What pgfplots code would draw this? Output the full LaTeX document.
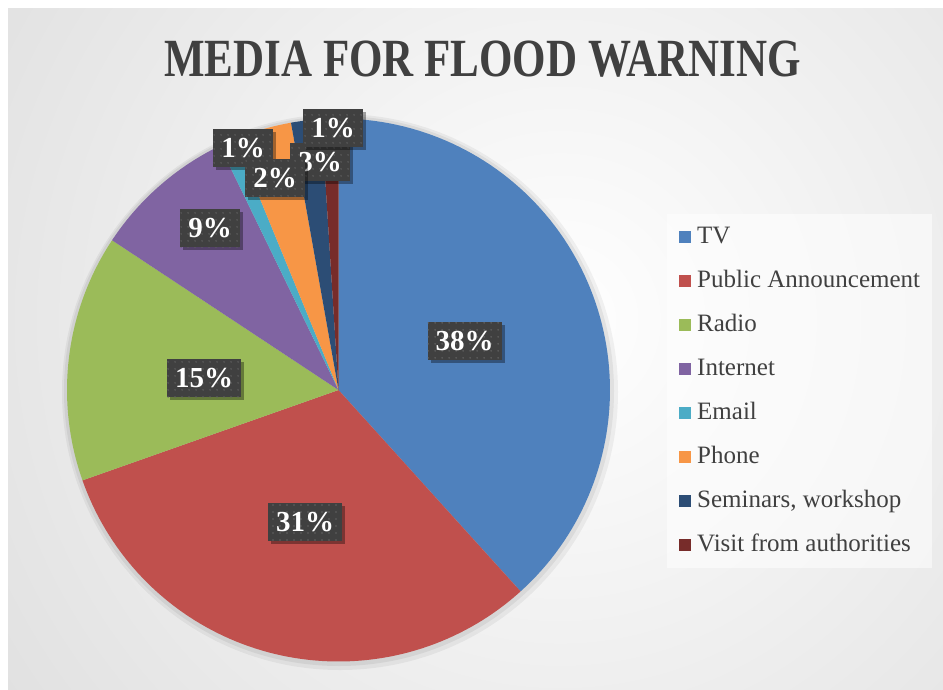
\documentclass[border=0pt]{standalone}
\usepackage{pgfplots}
\pgfplotsset{compat=1.18}
\usepackage{fontspec}
\setmainfont{Liberation Serif}
\usetikzlibrary{shadows,patterns.meta}
\definecolor{cTV}{HTML}{4F81BD}
\definecolor{cPA}{HTML}{C0504D}
\definecolor{cRadio}{HTML}{9BBB59}
\definecolor{cNet}{HTML}{8064A2}
\definecolor{cMail}{HTML}{4BACC6}
\definecolor{cPhone}{HTML}{F79646}
\definecolor{cSem}{HTML}{2C4D75}
\definecolor{cVisit}{HTML}{772C2A}
\definecolor{txt}{HTML}{404040}
\begin{document}
\begin{tikzpicture}[
  lab/.style={fill=txt, text=white, font=\fontsize{29}{29}\selectfont\bfseries,
    minimum height=38pt, inner xsep=8pt, inner ysep=0pt,
    drop shadow={shadow xshift=3pt, shadow yshift=-3pt, opacity=0.35, fill=black},
    postaction={pattern={Dots[distance=6.5pt, radius=0.9pt]}, pattern color=black!62}}]
\useasboundingbox (0,0) rectangle (943pt,-689pt);
\fill[white] (0,0) rectangle (943pt,-689pt);
\begin{scope}
\clip (8pt,-8pt) rectangle (943pt,-689pt);
\shade[inner color=white, outer color=black!22] (560pt,-320pt) circle (1250pt);
\end{scope}
% soft shadow behind pie
\fill[black, opacity=0.05] (340pt,-392pt) circle (278pt);
\fill[black, opacity=0.06] (339pt,-391pt) circle (275pt);
% title
\node[text=txt, font=\fontsize{43}{43}\selectfont\bfseries] at (482.5pt,-59pt)
  {\scalebox{1}[1.25]{MEDIA FOR FLOOD WARNING}};
\begin{axis}[
  at={(338.5pt,-390pt)}, anchor=center,
  width=543pt, height=543pt, scale only axis,
  xmin=-1, xmax=1, ymin=-1, ymax=1,
  hide axis, clip=false,
  legend cell align=left,
  legend image code/.code={\fill[#1, fill opacity=1, opacity=1] (0pt,-6pt) rectangle (12pt,6pt); \path (18pt,0pt);},
  legend style={at={(1.105,0.824)}, anchor=north west, draw=none,
    fill=white, fill opacity=0.55, text opacity=1,
    font=\fontsize{25}{25}\selectfont, text=txt,
    inner xsep=12pt, inner ysep=12pt, row sep=22pt,
    nodes={inner xsep=0pt, inner ysep=0pt, text height=17pt, text depth=5pt}},
]
% slice boundaries in percent of the whole (clockwise from 12 o'clock)
\addplot[fill=cTV, draw=none, domain=0:38.3, samples=90] ({sin(3.6*x)},{cos(3.6*x)}) -- (axis cs:0,0) -- cycle;
\addlegendentry{TV}
\addplot[fill=cPA, draw=none, domain=38.3:69.6, samples=80] ({sin(3.6*x)},{cos(3.6*x)}) -- (axis cs:0,0) -- cycle;
\addlegendentry{Public Announcement}
\addplot[fill=cRadio, draw=none, domain=69.6:84.3, samples=50] ({sin(3.6*x)},{cos(3.6*x)}) -- (axis cs:0,0) -- cycle;
\addlegendentry{Radio}
\addplot[fill=cNet, draw=none, domain=84.3:92.8, samples=30] ({sin(3.6*x)},{cos(3.6*x)}) -- (axis cs:0,0) -- cycle;
\addlegendentry{Internet}
\addplot[fill=cMail, draw=none, domain=92.8:93.8, samples=6] ({sin(3.6*x)},{cos(3.6*x)}) -- (axis cs:0,0) -- cycle;
\addlegendentry{Email}
\addplot[fill=cPhone, draw=none, domain=93.8:97.2, samples=12] ({sin(3.6*x)},{cos(3.6*x)}) -- (axis cs:0,0) -- cycle;
\addlegendentry{Phone}
\addplot[fill=cSem, draw=none, domain=97.2:99.0, samples=8] ({sin(3.6*x)},{cos(3.6*x)}) -- (axis cs:0,0) -- cycle;
\addlegendentry{Seminars, workshop}
\addplot[fill=cVisit, draw=none, domain=99.0:100, samples=6] ({sin(3.6*x)},{cos(3.6*x)}) -- (axis cs:0,0) -- cycle;
\addlegendentry{Visit from authorities}
\end{axis}
% data labels
\node[lab] at (464.5pt,-341pt) {38\%};
\node[lab] at (305pt,-522pt) {31\%};
\node[lab] at (204pt,-378pt) {15\%};
\node[lab] at (210pt,-228pt) {9\%};
\node[lab] at (320pt,-162pt) {3\%};
\node[lab] at (333pt,-128pt) {1\%};
\node[lab] at (243pt,-148pt) {1\%};
\node[lab] at (275pt,-178pt) {2\%};
\end{tikzpicture}
\end{document}
